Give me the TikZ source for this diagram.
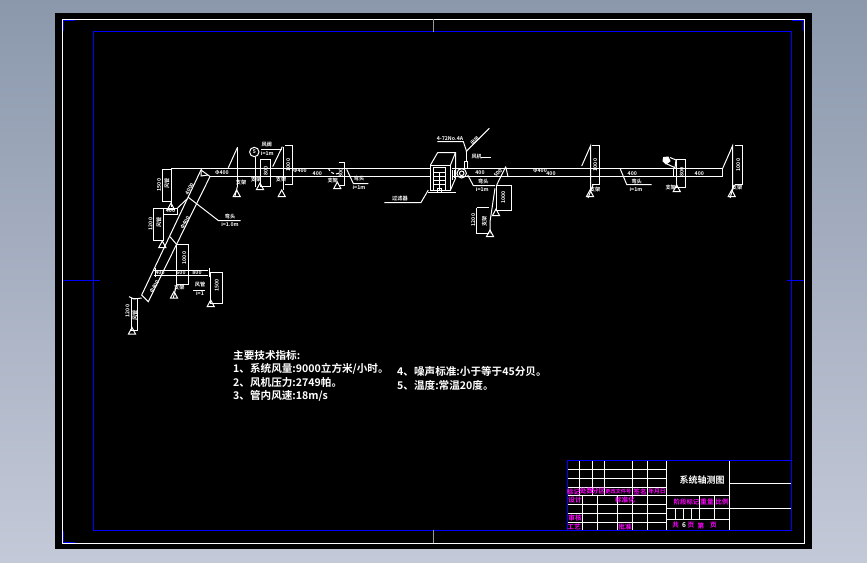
\documentclass[tikz,border=0pt]{standalone}
\usepackage{fontspec}
\setmainfont{Noto Sans CJK SC}[BoldFont={Noto Sans CJK SC Bold}]
\definecolor{cadblue}{RGB}{0,0,255}
\definecolor{cadmag}{RGB}{255,0,255}
\definecolor{bgtop}{RGB}{139,152,172}
\definecolor{bgbot}{RGB}{196,201,216}
\tikzset{
 wl/.style={draw=white,line width=1pt},
 bl/.style={draw=cadblue,line width=1.1pt},
 lab/.style={text=white,inner sep=0pt,font=\bfseries\fontsize{5.2}{5.5}\selectfont},
 note/.style={text=white,inner sep=0pt,anchor=west,font=\bfseries\fontsize{10.6}{11}\selectfont},
 mag/.style={text=cadmag,inner sep=0pt,font=\bfseries\fontsize{6.6}{7}\selectfont},
 wt/.style={text=white,inner sep=0pt,font=\bfseries\fontsize{6.6}{7}\selectfont}
}
\newcommand\lbl[4][0]{\node[lab,rotate=#1] at (#2,#3) {#4};}
\newcommand\tri[2]{\draw[wl] (#1,#2) -- ++(-3.5,6.5) -- ++(7,0) -- cycle;}
\begin{document}
\begin{tikzpicture}[x=1pt,y=-1pt]
\useasboundingbox (0,0) rectangle (867,562);
\fill[top color=bgtop,bottom color=bgbot] (0,0) rectangle (867,562);
\fill[black] (55,13) rectangle (812,549.3);
% frames
\draw[draw=white,line width=1.2pt] (62.5,19.5) rectangle (804.5,543.5);
\draw[bl] (93.5,530.5) -- (93.5,31.5) -- (791.5,31.5) -- (791.5,530.5);
\draw[draw=cadblue,line width=1.6pt] (93.5,530.5) -- (791.5,530.5);
\draw[bl] (63.5,31) -- (63.5,20.5) -- (75,20.5);
\draw[bl] (63.5,531) -- (63.5,542.5) -- (75,542.5);
\draw[bl] (792,20.5) -- (803.5,20.5) -- (803.5,31);
\draw[bl] (63,280.5) -- (100,280.5);
\draw[bl] (787,280.5) -- (804,280.5);
\draw[draw=white!60!black,line width=.7pt] (433.5,19) -- (433.5,32);
\draw[draw=white!60!black,line width=.7pt] (433.5,530) -- (433.5,543);
% main duct
\draw[wl] (171,168.5) -- (430,168.5);
\draw[wl] (210,176.5) -- (430,176.5);
\draw[wl] (452,168.5) -- (722.5,168.5) -- (722.5,176.5) -- (452,176.5);
% inclined duct
\draw[wl] (201.7,168.5) -- (141.7,295) -- (148.3,301.7) -- (210,176.5);
\draw[wl] (201,170) -- (210,176.5);
\draw[wl] (201,170) -- (201,176) -- (208,175);
% upper-left dims
\draw[wl] (162,169) rectangle (171,201.7);
\draw[wl] (171,169) -- (171,207);
\tri{171}{203}
\lbl[90]{159}{185}{1500}
\lbl[90]{167}{183}{风管}
\draw[wl] (163.5,208) rectangle (177.5,214);
\lbl{170.5}{210.8}{400}
\draw[wl] (177.5,208) -- (187,199);
\draw[wl] (153.5,208.5) rectangle (163.5,240);
\tri{162.3}{241}
\lbl[90]{150.5}{224}{1200}
\lbl[90]{159}{222}{风管}
\lbl[60]{189.5}{189}{4000}
\lbl[60]{185}{222.7}{Φ400}
\lbl[60]{154.3}{286.7}{Φ400}
% leader
\draw[wl] (188.3,197.3) -- (218.3,220.5) -- (240.7,220.5);
\lbl{230}{216.6}{弯头}
\lbl{230}{224.5}{i=1.0m}
% lower boxes on incline
\draw[wl] (170,236.7) -- (176.7,244.5);
\draw[wl] (176.5,244.5) -- (188.5,244.5) -- (188.5,284) -- (176.5,284) -- cycle;
\lbl[90]{184.3}{258}{1000}
\draw[wl] (176.7,284) -- (173.3,298);
\tri{174}{291.5}
\lbl{179.3}{288}{支架}
\draw[wl] (154.3,270.5) -- (208.3,270.5);
\draw[wl] (154.3,275.5) -- (208.3,275.5);
\draw[wl] (155,268) -- (155,277);
\draw[wl] (209.5,268) -- (209.5,277);
\lbl{160}{273}{400}
\lbl{181}{273}{600}
\lbl{197}{273}{800}
\draw[wl] (210.5,272.5) -- (222.5,272.5) -- (222.5,303.5) -- (210.5,303.5) -- cycle;
\tri{210.7}{300}
\lbl[90]{216.7}{285.5}{1500}
\lbl{200}{285}{风管}
\draw[wl] (193,290) -- (205,290);
\lbl{200}{293.5}{i=1}
% bottom support
\draw[wl] (129,296.7) -- (134,299) -- (141.7,298);
\draw[wl] (131.5,298) -- (137.5,298) -- (137.5,330.5) -- (131.5,330.5) -- cycle;
\tri{132}{327.5}
\lbl[90]{127.5}{311}{1200}
\lbl[90]{135}{315}{风管}
% first stations
\draw[wl] (237.5,147.3) -- (228.3,167.7);
\draw[wl] (237.5,147.3) -- (237.5,186.7);
\draw[wl] (237.3,186.7) -- (235,196);
\tri{236.7}{190}
\lbl{241}{183}{支架}
\draw[wl] (254.3,152) circle (4.7);
\node[lab] at (254.3,152) {5};
\draw[wl] (255,156.7) -- (255,186.7);
\tri{260}{183}
\lbl{256}{180}{支架}
\draw[wl] (260.5,159.5) rectangle (270.5,186);
\lbl[90]{265.7}{171}{800}
\draw[wl] (261,149.5) -- (281.7,149.5);
\lbl{266.7}{144.3}{风阀}
\lbl{267.3}{153.3}{i=1m}
\draw[wl] (282.3,146.7) -- (272.7,166.7);
\draw[wl] (283.5,146.7) -- (283.5,190);
\tri{281.7}{190}
\lbl{281}{180}{支架}
\draw[wl] (285,145.5) -- (292.5,145.5) -- (292.5,184) -- (285,184);
\lbl[90]{288.3}{165}{1000}
\lbl{222}{172.5}{Φ400}
\lbl{300}{171}{Φ400}
\lbl{317.3}{173.3}{400}
\draw[wl,densely dashed] (328.3,168.3) arc[start angle=160,end angle=70,radius=8.5];
\draw[wl] (338.5,162.5) -- (344.5,162.5) -- (344.5,185) -- (338.5,185);
\lbl[90]{340.7}{173.3}{800}
\tri{337.3}{182}
\lbl{332.7}{181}{支架}
\draw[wl] (346.7,169.3) -- (353.3,183.5) -- (368.3,183.5);
\lbl{359}{178.3}{弯头}
\lbl{359}{187}{i=1m}
% filter unit
\draw[wl] (430.5,165.5) rectangle (450.5,190.5);
\draw[wl] (430.5,165) -- (437.7,152.5) -- (455.5,152.5) -- (450.5,165);
\draw[wl] (455.5,152.7) -- (455.5,178.3) -- (450.5,190);
\draw[wl] (433.5,167.5) rectangle (445.5,190.5);
\foreach \yy in {172.5,176.5,180.5,184.5} \draw[draw=white,line width=.8pt] (433.3,\yy) -- (445,\yy);
\foreach \xx in {439.5} \draw[draw=white,line width=.8pt] (\xx,172) -- (\xx,190);
\draw[wl] (437.5,188.5) rectangle (441.5,192.5);
\draw[wl] (428.3,192.5) -- (455.7,192.5);
\draw[wl] (426,176) -- (430,176);
\draw[wl] (384.3,202.5) -- (421,202.5) -- (428.3,190);
\lbl{400}{199}{过滤器}
% fan
\draw[wl] (461.7,173.3) circle (4.7);
\draw[wl] (461.7,173.3) circle (2.3);
\draw[wl] (452.5,170) -- (452.5,180);
\draw[wl] (454.5,170) -- (454.5,178);
\draw[wl] (437.3,141.5) -- (463.3,141.5) -- (466.7,151.7);
\lbl{450}{139}{4-72No.4A}
\draw[wl] (466,151.7) -- (489.3,128.3);
\lbl[45]{475}{140.7}{出风}
\draw[wl] (466.5,151.7) -- (466.5,161.7);
\draw[wl] (464,161.7) rectangle (467.7,168.3);
\lbl{476.7}{156.7}{风机}
\draw[wl] (481,157.5) -- (490.7,157.5);
\draw[wl] (467.7,175) -- (473.3,185.5) -- (495,185.5);
\lbl{483.3}{181.7}{弯头}
\lbl{482.3}{189.8}{i=1m}
\lbl{480}{173}{400}
\lbl[45]{498}{173}{500}
\draw[wl] (505.7,166.7) -- (508,176.7);
\draw[wl] (505.7,166.7) -- (496.7,185);
\draw[wl] (496.5,185.5) -- (511,185.5) -- (511,210.5) -- (496.5,210.5) -- cycle;
\tri{496}{209}
\lbl[90]{503.3}{197.3}{1000}
\draw[wl] (495,188.3) -- (490,221.7) -- (490,233.3);
\draw[wl] (476.5,207.5) -- (489,207.5);
\draw[wl] (476.5,233.5) -- (489,233.5);
\draw[wl] (476.5,207.5) -- (476.5,233.5);
\tri{490}{230}
\lbl[90]{484.3}{221.7}{支架}
\lbl[90]{473.3}{220}{1200}
% right stations
\lbl{540}{171}{Φ400}
\lbl{551}{173.3}{400}
\draw[wl] (581.7,166) -- (590.5,146) -- (590.5,190);
\draw[wl] (591.7,145.5) -- (599.5,145.5) -- (599.5,184) -- (591.7,184);
\lbl[90]{595.3}{165}{1000}
\draw[wl] (593,185) -- (588,198);
\tri{590}{190}
\lbl{595}{190}{支架}
\draw[wl] (620,168.3) -- (626.7,184.5) -- (651.7,184.5);
\lbl{636.7}{181.7}{弯头}
\lbl{636}{189.3}{i=1m}
\lbl{632.3}{173.3}{400}
\lbl{699.3}{173.3}{400}
\draw[wl,fill=white] (663.5,157.5) -- (668,157) -- (670,161) -- (666,164) -- (663,161) -- cycle;
\draw[wl] (670,157.5) -- (676,160) -- (675,167.7);
\draw[wl] (667,164) -- (675,167.7);
\draw[wl] (673.5,168.3) -- (673.5,176.3);
\draw[wl] (676.5,159.5) rectangle (685.5,187.5);
\lbl[90]{681.7}{172.3}{800}
\tri{676.7}{185}
\lbl{670.7}{188}{支架}
\draw[wl] (722.7,168.3) -- (732.5,146) -- (732.5,190);
\draw[wl] (735,145.5) -- (742.5,145.5) -- (742.5,184) -- (735,184);
\lbl[90]{738.3}{165}{1000}
\draw[wl] (734,185) -- (730,198);
\tri{731.7}{190}
\lbl{737}{188}{支架}
% notes
\node[note] at (233,355) {主要技术指标:};
\node[note] at (233,369) {1、系统风量:9000立方米/小时。};
\node[note] at (233,382) {2、风机压力:2749帕。};
\node[note] at (233,396) {3、管内风速:18m/s};
\node[note] at (397,371.5) {4、噪声标准:小于等于45分贝。};
\node[note] at (397,385.5) {5、温度:常温20度。};
% title block
\draw[bl] (567.5,530.3) -- (567.5,460.5) -- (791.5,460.5);
\foreach \yy in {469.5,478.5,487.5,495.5,504.5,513.5,522.5}
  \draw[wl] (568,\yy) -- (666.5,\yy);
\foreach \xx in {579.5,592.5,604.5} \draw[wl] (\xx,461) -- (\xx,495.5);
\foreach \xx in {582.5,597.5,617.5} \draw[wl] (\xx,495.5) -- (\xx,530);
\foreach \xx in {632.5,647.5,666.5,729.5} \draw[wl] (\xx,461) -- (\xx,530);
\draw[wl] (729.5,483.5) -- (791,483.5);
\draw[wl] (666.5,495.5) -- (729.5,495.5);
\draw[wl] (666.5,508.5) -- (791,508.5);
\draw[wl] (666.5,519.5) -- (729.5,519.5);
\foreach \xx in {699.5,714.5} \draw[wl] (\xx,495.5) -- (\xx,519.5);
\foreach \xx in {675.5,683.5,691.5} \draw[wl] (\xx,508.5) -- (\xx,519.5);
\node[text=white,inner sep=0pt,font=\bfseries\fontsize{9}{10}\selectfont] at (702,480) {系统轴测图};
\node[mag] at (573.5,491.5) {标记};
\node[mag] at (586.5,491.5) {处数};
\node[mag] at (598.5,491.5) {分区};
\node[mag,font=\bfseries\fontsize{5.2}{6}\selectfont] at (618.3,491.5) {更改文件号};
\node[mag] at (640,491.5) {签名};
\node[mag,font=\bfseries\fontsize{5.8}{6}\selectfont] at (657,491.5) {年月日};
\node[mag] at (575,500) {设计};
\node[mag] at (625,500) {标准化};
\node[mag] at (575,518) {审核};
\node[mag] at (574,526.5) {工艺};
\node[mag] at (625,526.5) {批准};
\node[mag,font=\bfseries\fontsize{6.4}{7}\selectfont] at (686.5,502) {阶段标记};
\node[mag] at (707,502) {重量};
\node[mag] at (722,502) {比例};
\node[mag] at (675.7,525.5) {共};
\node[wt] at (684,525.5) {6};
\node[mag] at (691,525.5) {页};
\node[mag] at (701,525.5) {第};
\node[mag] at (713.3,525.5) {页};
\end{tikzpicture}
\end{document}
